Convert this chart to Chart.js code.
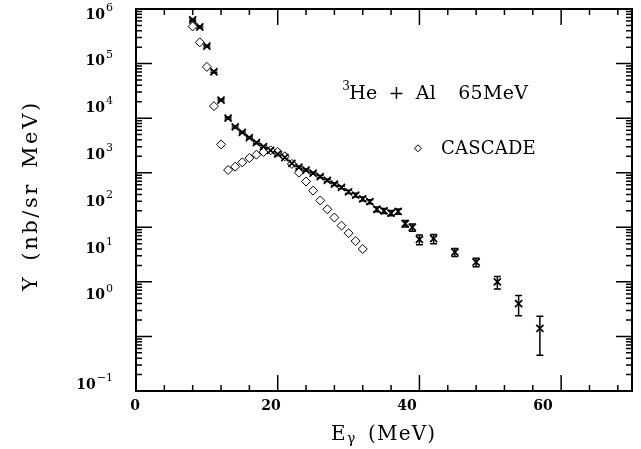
<!DOCTYPE html>
<html>
<head>
<meta charset="utf-8">
<script src="https://cdn.jsdelivr.net/npm/chart.js@4/dist/chart.umd.min.js"></script>
<style>
html, body { margin: 0; padding: 0; background: #fff; }
canvas { display: block; }
</style>
</head>
<body>
<canvas id="myChart" width="641" height="449"></canvas>
<script>
// measured photon spectrum, 3He + Al at 65 MeV
const energies = [8,9,10,11,12,13,14,15,16,17,18,19,20,21,22,23,24,25,26,27,28,29,30,31,32,33,34,35,36,37,38,39,40,42,45,48,51,54,57];
const yields = [631000,468000,209000,70800,21400,10000,6900,5500,4400,3550,3000,2570,2190,1900,1480,1260,1120,980,850,725,617,537,447,389,331,295,214,200,182,195,117,100,60,62,35,23,10,4.0,1.4];
const yieldErr = [25000,19000,8400,2800,860,400,280,220,180,140,120,100,90,80,62,55,50,45,40,36,32,30,30,30,28,26,22,21,20,21,16,15,12,12,6,4,2.6,1.6,0.95];

// CASCADE calculation
const cascadeE = [8,9,10,11,12,13,14,15,16,17,18,19,20,21,22,23,24,25,26,27,28,29,30,31,32];
const cascadeY = [479000,245000,87000,16600,3300,1120,1290,1550,1860,2140,2400,2570,2400,2000,1450,1000,690,470,310,214,151,107,78,56,40];

const xTickLabels = [0,20,40,60];
const yExponents = [6,5,4,3,2,1,0,-1];

const SERIF = '"DejaVu Serif", "Liberation Serif", serif';

let expData = energies.map((e, i) => ({x: e, y: yields[i]}));
let casData = cascadeE.map((e, i) => ({x: e, y: cascadeY[i]}));

// draw text with extra spacing between letters and a chosen space width, returns end x
function drawSpaced(ctx, text, x, y, spacing, spaceW) {
	ctx.textAlign = 'left';
	for (const ch of text) {
		if (ch === ' ' && spaceW) { x += spaceW; continue; }
		ctx.fillText(ch, x, y);
		x += ctx.measureText(ch).width + spacing;
	}
	return x;
}
function spacedWidth(ctx, text, spacing, spaceW) {
	let w = 0;
	for (const ch of text) w += (ch === ' ' && spaceW) ? spaceW : ctx.measureText(ch).width + spacing;
	return w;
}

const decorPlugin = {
	id: 'decor',
	beforeDatasetsDraw(chart) {
		// error bars for the measured points
		const ctx = chart.ctx, xs = chart.scales.x, ys = chart.scales.y;
		ctx.save();
		ctx.strokeStyle = '#000';
		ctx.lineWidth = 1.5;
		energies.forEach((e, i) => {
			let px = xs.getPixelForValue(e);
			let top = ys.getPixelForValue(yields[i] + yieldErr[i]);
			let bot = ys.getPixelForValue(Math.max(yields[i] - yieldErr[i], 0.11));
			ctx.beginPath();
			ctx.moveTo(px, top); ctx.lineTo(px, bot);
			ctx.moveTo(px - 3.5, top); ctx.lineTo(px + 3.5, top);
			ctx.moveTo(px - 3.5, bot); ctx.lineTo(px + 3.5, bot);
			ctx.stroke();
		});
		ctx.restore();
	},
	afterDraw(chart) {
		const ctx = chart.ctx, xs = chart.scales.x, ys = chart.scales.y;
		const a = chart.chartArea;
		ctx.save();
		ctx.strokeStyle = '#000';
		ctx.fillStyle = '#000';

		// frame
		ctx.lineWidth = 2;
		ctx.strokeRect(a.left, a.top, a.right - a.left, a.bottom - a.top);

		// inward ticks on x (top and bottom)
		ctx.lineWidth = 1.5;
		xs.ticks.forEach(t => {
			let px = xs.getPixelForValue(t.value);
			let len = (t.value % 20 === 0) ? 16 : 6;
			ctx.beginPath();
			ctx.moveTo(px, a.bottom); ctx.lineTo(px, a.bottom - len);
			ctx.moveTo(px, a.top); ctx.lineTo(px, a.top + len);
			ctx.stroke();
		});
		// inward ticks on y (left and right), log decades with minor ticks
		yExponents.forEach(k => {
			for (let m = 1; m <= 9; m++) {
				let v = m * Math.pow(10, k);
				if (v > 1e6) break;
				let py = ys.getPixelForValue(v);
				let len = (m === 1) ? 16 : 6;
				ctx.beginPath();
				ctx.moveTo(a.left, py); ctx.lineTo(a.left + len, py);
				ctx.moveTo(a.right, py); ctx.lineTo(a.right - len, py);
				ctx.stroke();
			}
		});

		// y tick labels 10^k (the original plot sets them on a tighter pitch than the ticks)
		ctx.textBaseline = 'middle';
		yExponents.forEach((k, i) => {
			let py = (k >= 0) ? a.top + 5 + i * 46.8 : a.bottom - 7;
			let exp = (k < 0) ? '\u2212' + (-k) : String(k);
			ctx.font = '11px ' + SERIF;
			ctx.textAlign = 'right';
			let ew = ctx.measureText(exp).width;
			ctx.fillText(exp, 113, py - 6);
			ctx.font = 'bold 14px ' + SERIF;
			ctx.fillText('10', 113 - ew - 1, py + 1);
		});

		// x tick labels, also on their own slightly tighter pitch
		ctx.font = 'bold 14px ' + SERIF;
		ctx.textAlign = 'center';
		xTickLabels.forEach(v => {
			ctx.fillText(String(v), a.left - 1 + v * 6.8, a.bottom + 15);
		});

		// y axis title
		ctx.save();
		ctx.translate(32, 197);
		ctx.rotate(-Math.PI / 2);
		ctx.font = '21px ' + SERIF;
		ctx.textBaseline = 'middle';
		let yt = 'Y (nb/sr MeV)';
		let yw = spacedWidth(ctx, yt, 2.6, 14) - 2.6;
		drawSpaced(ctx, yt, -yw / 2, 0, 2.6, 14);
		ctx.restore();

		// x axis title: E with subscript gamma
		ctx.textBaseline = 'alphabetic';
		let xx = 331;
		ctx.font = '20px ' + SERIF;
		xx = drawSpaced(ctx, 'E', xx, 440, 1.5);
		ctx.font = '14px ' + SERIF;
		xx = drawSpaced(ctx, '\u03b3', xx, 443, 1.5);
		ctx.font = '20px ' + SERIF;
		drawSpaced(ctx, ' (MeV)', xx, 440, 1.2, 11);

		// reaction label
		let lx = xs.getPixelForValue(29.1), ly = ys.getPixelForValue(30000) + 7;
		ctx.font = '12px ' + SERIF;
		ctx.textAlign = 'left';
		ctx.fillText('3', lx, ly - 9);
		ctx.font = '19px ' + SERIF;
		drawSpaced(ctx, 'He + Al  65MeV', lx + 7, ly, 0.3, 11);

		// legend entry
		let dx = xs.getPixelForValue(39.8), dy = ys.getPixelForValue(2800);
		ctx.lineWidth = 1;
		ctx.beginPath();
		ctx.moveTo(dx, dy - 3.5); ctx.lineTo(dx + 3.5, dy); ctx.lineTo(dx, dy + 3.5); ctx.lineTo(dx - 3.5, dy); ctx.closePath();
		ctx.stroke();
		ctx.font = '18px ' + SERIF;
		ctx.textBaseline = 'middle';
		drawSpaced(ctx, 'CASCADE', dx + 23, dy + 1, 0.2);
		ctx.restore();
	}
};

let myChart = new Chart(document.getElementById('myChart'), {
	type: 'scatter',
	data: {
		datasets: [{
			label: 'data',
			data: expData,
			pointStyle: 'crossRot',
			pointRadius: 5,
			borderColor: '#000',
			borderWidth: 1.7,
			showLine: false
		}, {
			label: 'CASCADE',
			data: casData,
			pointStyle: 'rectRot',
			pointRadius: 4.5,
			borderColor: '#000',
			backgroundColor: '#fff',
			borderWidth: 1,
			showLine: false
		}]
	},
	options: {
		responsive: false,
		animation: false,
		devicePixelRatio: 1,
		layout: { padding: { top: 9, right: 9, left: 0, bottom: 0 } },
		plugins: { legend: { display: false }, tooltip: { enabled: false } },
		scales: {
			x: {
				type: 'linear',
				min: 0, max: 70,
				grid: { display: false, drawTicks: false },
				border: { display: false },
				ticks: { stepSize: 4, includeBounds: false, autoSkip: false, display: false },
				afterFit: s => { s.height = 58; }
			},
			y: {
				type: 'logarithmic',
				min: 0.1, max: 1e6,
				grid: { display: false, drawTicks: false },
				border: { display: false },
				ticks: { display: false },
				afterFit: s => { s.width = 136; }
			}
		}
	},
	plugins: [decorPlugin]
});
</script>
</body>
</html>
